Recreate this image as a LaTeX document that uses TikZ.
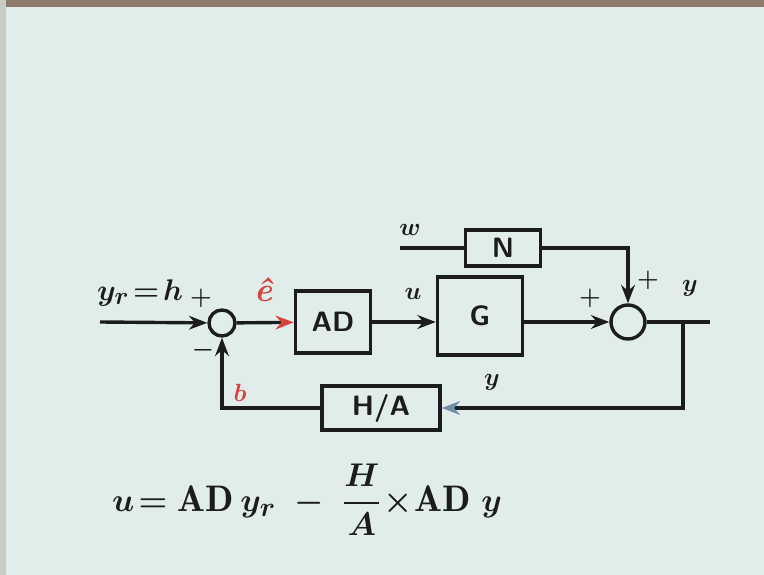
\documentclass[tikz,border=0pt]{standalone}
\usepackage{amsmath}
\usepackage{fontspec}
\usetikzlibrary{arrows.meta,positioning}
\definecolor{board}{HTML}{E1EDEA}
\definecolor{frametop}{HTML}{8C7B6C}
\definecolor{frameside}{HTML}{C9CCC6}
\definecolor{marker}{HTML}{1C1C1C}
\definecolor{redmark}{HTML}{D8423C}
\definecolor{bluemark}{HTML}{6C8FA8}
\tikzset{>=Stealth,every node/.style={font=\sffamily\bfseries\boldmath\fontsize{28}{32}\selectfont,text=marker},
  block/.style={draw=marker,line width=3.4pt,inner sep=0pt},
  sumpt/.style={circle,draw=marker,line width=3.4pt,minimum size=26pt,inner sep=0pt},
  flow/.style={line width=3.4pt,draw=marker,->},edge/.style={line width=3.4pt,draw=marker}}

\begin{document}
\begin{tikzpicture}[x=1pt,y=-1pt]
\fill[board] (0,0) rectangle (764,575);
\fill[frametop] (0,0) rectangle (764,7);\fill[frameside] (0,0) rectangle (6,575);
% blocks
\node[sumpt] (s1) at (222,323) {};
\node[block,minimum width=75pt,minimum height=62pt] (ad) at (333,322) {AD};
\node[block,minimum width=85pt,minimum height=78pt] (g) at (480,316) {G};
\node[block,minimum width=75pt,minimum height=36pt] (n) at (503,248) {N};
\node[sumpt,minimum size=34pt] (s2) at (628,322) {};
\node[block,minimum width=118pt,minimum height=44pt] (ha) at (381,408) {H/A};
\coordinate (in) at (100,322);\coordinate (win) at (400,248);
\coordinate (out) at (710,322);\coordinate (br) at (683,322);
% connectors
\draw[flow] (in) -- (s1);
\draw[flow,-{Stealth[color=redmark]}] (s1) -- (ad);
\draw[flow] (ad.east) -- (ad.east -| g.west);
\draw[edge] (win) -- (n);
\draw[flow] (n.east) -| (s2.north);
\draw[flow] (g.east |- s2) -- (s2.west);
\draw[edge] (s2) -- (out);
\draw[flow,-{Stealth[color=bluemark]}] (br) |- (ha.east);
\draw[flow] (ha.west) -| (s1.south);
% labels
\node (yr) at (140,293) {\scalebox{1.2}{$y_r\!=\!h$}};\node (p1) at (201,298) {$+$};\node (m1) at (203,350) {$-$};
\node[text=redmark,font=\rmfamily\bfseries\itshape\fontsize{34}{38}\selectfont] (ehat) at (264,290) {ê};
\node (u) at (413,294) {$u$};\node (w) at (410,230) {$w$};
\node (p2) at (590,298) {$+$};\node (p3) at (648,280) {$+$};
\node (y1) at (690,288) {$y$};\node (y2) at (492,382) {$y$};
\node[text=redmark] (b) at (240,393) {$b$};
\node (eq) at (307,500) {\scalebox{1.32}{$u\!=\mathrm{AD}\,y_r\;-\;\dfrac{H}{A}\!\times\!\mathrm{AD}\;y$}};
\end{tikzpicture}
\end{document}
